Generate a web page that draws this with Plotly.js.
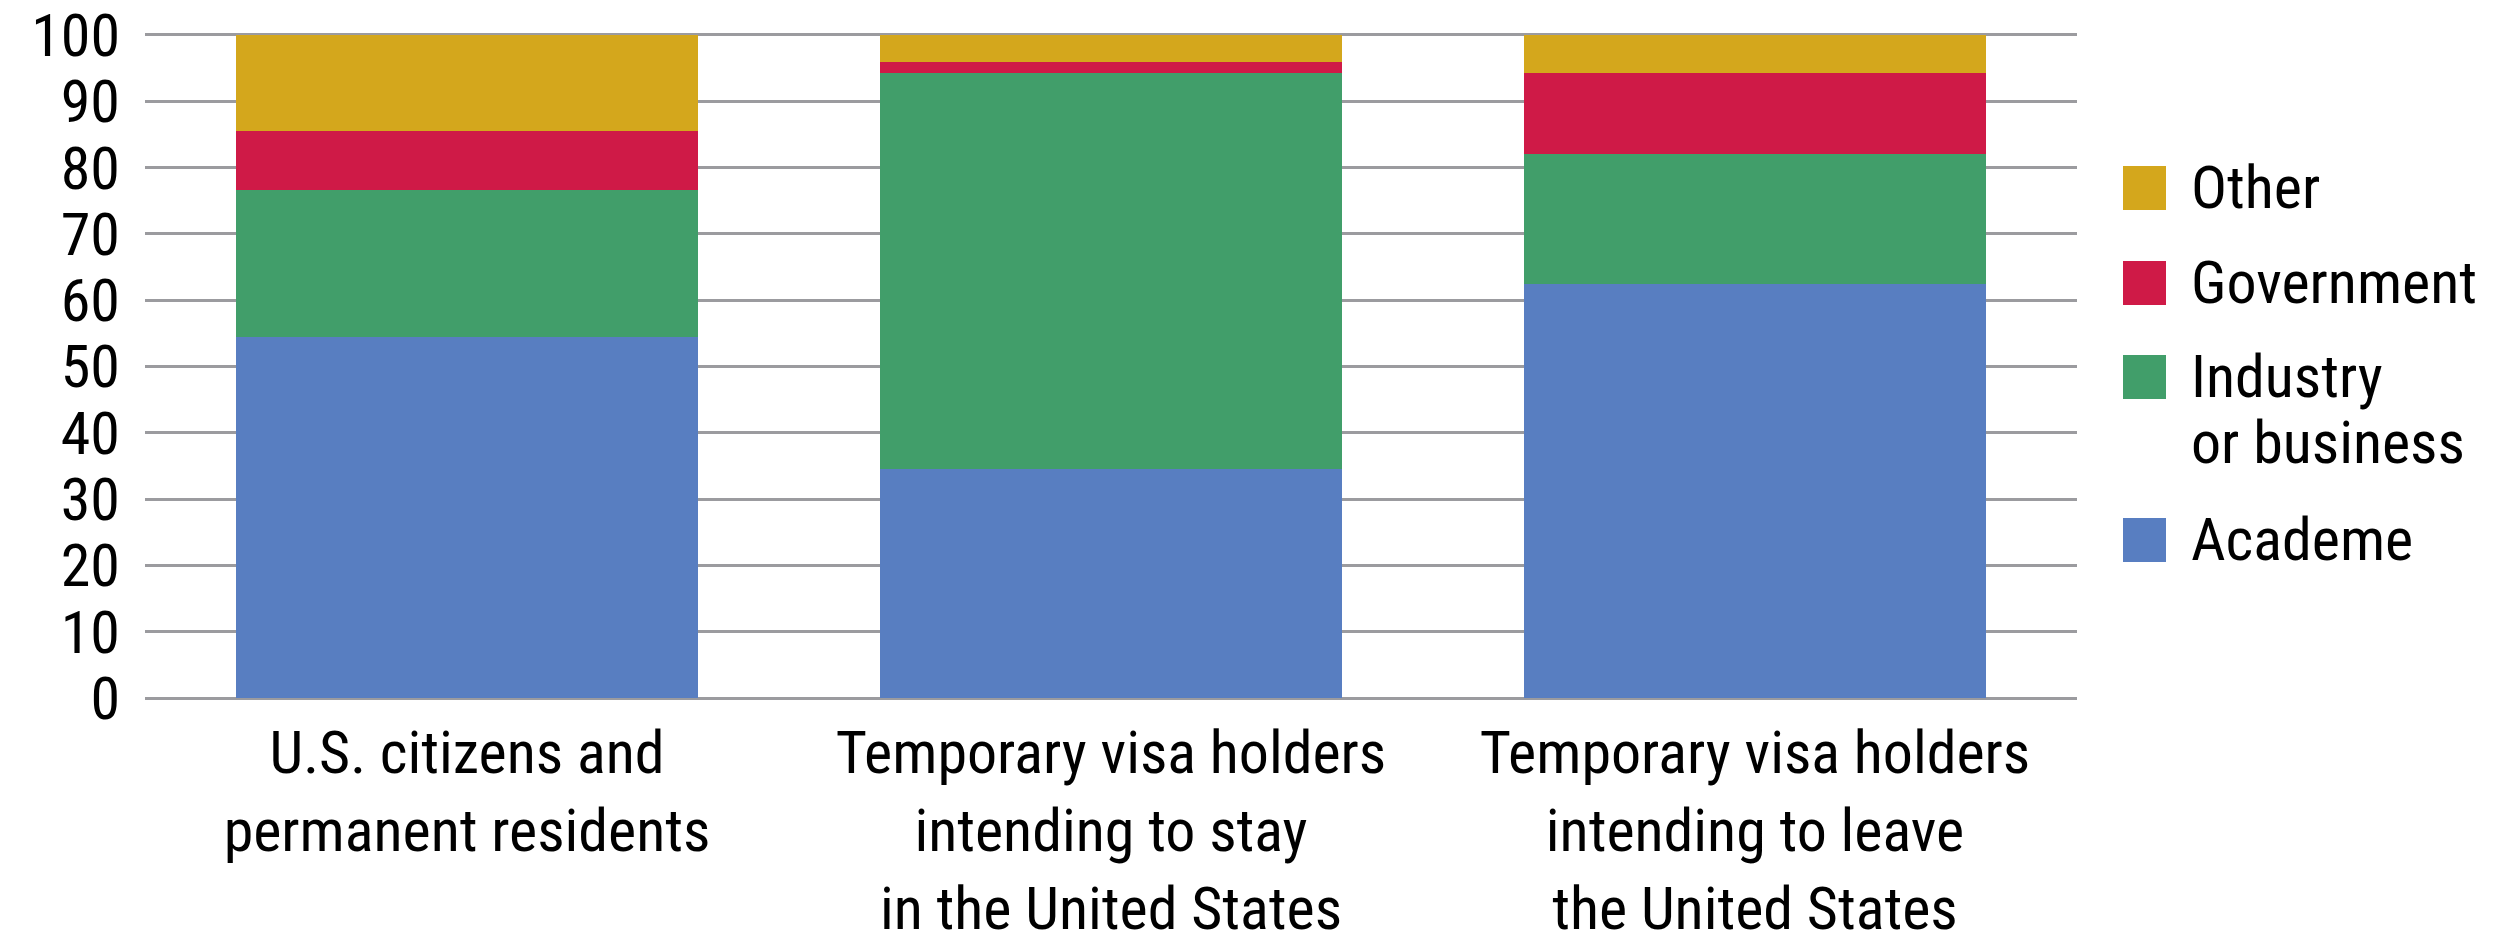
<!DOCTYPE html>
<html>
<head>
<meta charset="utf-8">
<script src="https://cdn.plot.ly/plotly-3.0.1.min.js"></script>
<style>
html,body{margin:0;padding:0;background:#fff;}
#chart{width:2505px;height:936px;}
</style>
</head>
<body>
<div id="chart"></div>
<script>
const categories = [
  "U.S. citizens and<br>permanent residents",
  "Temporary visa holders<br>intending to stay<br>in the United States",
  "Temporary visa holders<br>intending to leave<br>the United States"
];
const seriesNames = ["Academe", "Industry<br>or business", "Government", "Other"];
const academe    = [54.5, 34.5, 62.4];
const industry   = [22.1, 59.8, 19.6];
const government = [8.9, 1.7, 12.3];
const other      = [14.5, 4.0, 5.7];
const seriesColors = ["#587ec1", "#419e6a", "#cf1a47", "#d4a71c"];
const yTicks = [0,10,20,30,40,50,60,70,80,90,100];

const FONT = '"Roboto Condensed", "Liberation Sans", sans-serif';
const FS = 60;
const seriesValues = [academe, industry, government, other];

const traces = seriesValues.map((vals, i) => ({
  type: 'bar',
  x: categories,
  y: vals,
  name: seriesNames[i].replace('<br>', ' '),
  marker: {color: seriesColors[i], line: {width: 0}},
  width: 0.717,
  hoverinfo: 'y+name',
  showlegend: false
}));

// geometry (pixels) of the plot area
const plotLeft = 145, plotRight = 2077;
const yTop = 100.6;
const plotBottom = 698, y100 = 35;
const plotH = (plotBottom - y100) * yTop / 100;
const plotTop = plotBottom - plotH;

function pxToPaperX(px){ return (px - plotLeft) / (plotRight - plotLeft); }
function pxToPaperY(py){ return (plotBottom - py) / plotH; }

// custom legend built from series names/colours (top = last series)
const shapes = [];
const annotations = [];
const legendRowY = [188, 283, 377, 540];
const order = [3,2,1,0];
order.forEach((si, row) => {
  const cy = legendRowY[row];
  shapes.push({
    type: 'rect', xref: 'paper', yref: 'paper',
    x0: pxToPaperX(2123), x1: pxToPaperX(2166),
    y0: pxToPaperY(cy+22), y1: pxToPaperY(cy-22),
    fillcolor: seriesColors[si], line: {width: 0}
  });
  const lines = seriesNames[si].split('<br>');
  lines.forEach((ln, k) => {
    annotations.push({
      xref: 'paper', yref: 'paper',
      x: pxToPaperX(2189), y: pxToPaperY(cy + k*66),
      xanchor: 'left', yanchor: 'middle',
      text: ln, showarrow: false,
      font: {family: FONT, size: FS, color: '#000'}
    });
  });
});

const layout = {
  width: 2505, height: 936,
  margin: {l: plotLeft, r: 2505 - plotRight, t: plotTop, b: 936 - plotBottom, pad: 0},
  paper_bgcolor: '#fff', plot_bgcolor: '#fff',
  barmode: 'stack',
  showlegend: false,
  font: {family: FONT, size: FS, color: '#000'},
  xaxis: {
    type: 'category',
    range: [-0.5, 2.5],
    showgrid: false, zeroline: false, showline: false,
    ticks: '', tickangle: 0,
    ticklabelstandoff: 14,
    tickfont: {family: FONT, size: FS, color: '#000'},
    fixedrange: true
  },
  yaxis: {
    range: [0, yTop],
    tickvals: yTicks,
    ticktext: yTicks.map(String),
    showgrid: true, gridcolor: '#9b9b9f', gridwidth: 3,
    zeroline: true, zerolinecolor: '#9b9b9f', zerolinewidth: 3,
    showline: false, ticks: '',
    ticklabelstandoff: 24,
    ticklabeloverflow: 'allow',
    tickfont: {family: FONT, size: FS, color: '#000'},
    fixedrange: true
  },
  shapes: shapes,
  annotations: annotations
};

Plotly.newPlot('chart', traces, layout, {displayModeBar: false, staticPlot: true});
</script>
</body>
</html>
